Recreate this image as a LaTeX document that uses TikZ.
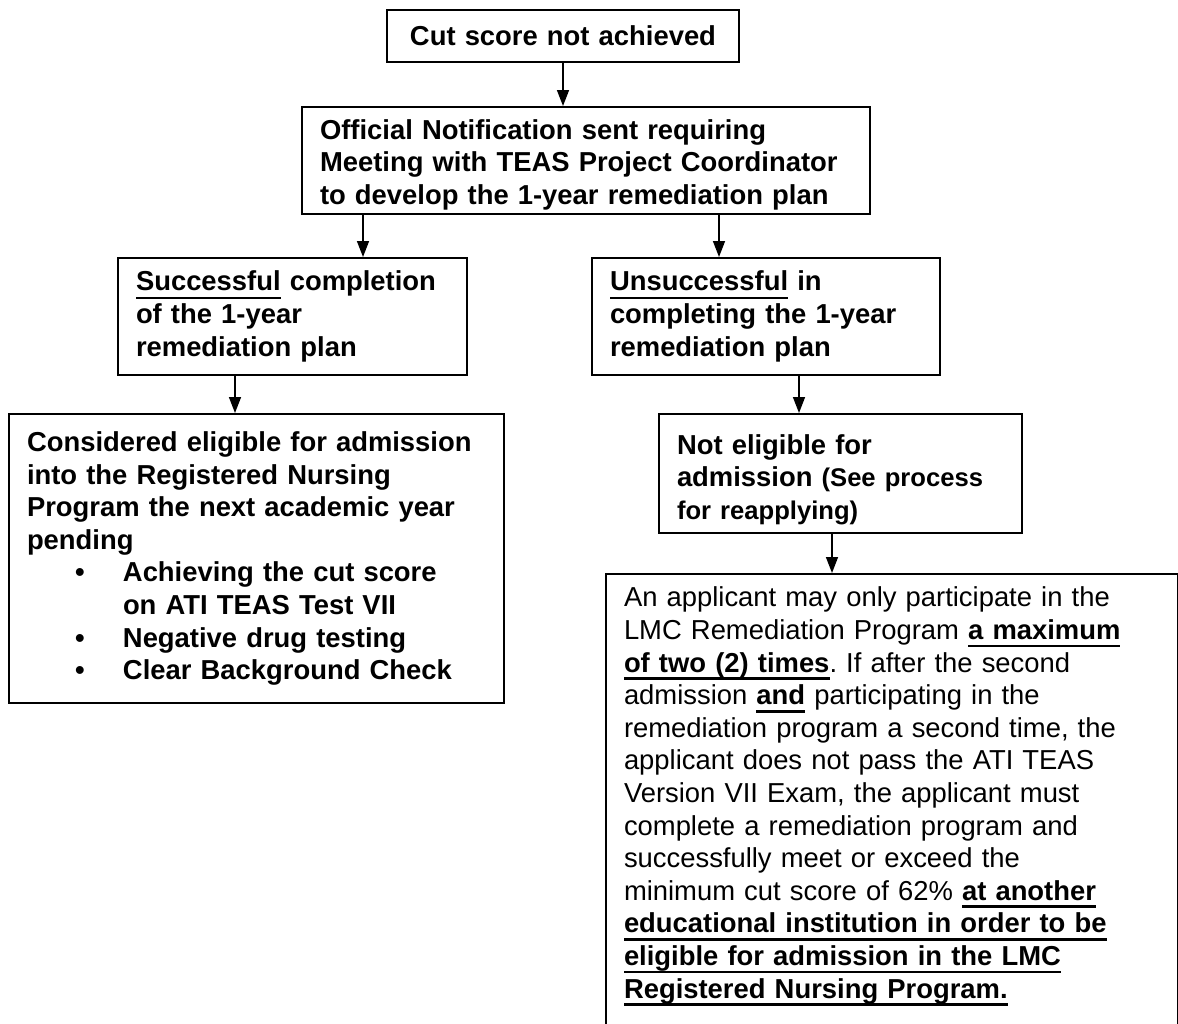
\documentclass[tikz,border=0pt]{standalone}
\usepackage{fontspec}
\setmainfont{Liberation Sans}
\usetikzlibrary{arrows.meta}
\frenchspacing

\tikzset{every picture/.style={line width=0.75pt}}
\tikzset{
  flowbox/.style={draw, line width=1pt, anchor=north west, inner xsep=9pt, inner ysep=0pt, align=left, font=\bfseries\fontsize{13.7pt}{16.3pt}\selectfont},
  plainbox/.style={flowbox, font=\fontsize{13.7pt}{16.3pt}\selectfont},
  arr/.style={-{Triangle[length=8pt,width=6pt]}, line width=0.75pt}
}
\newcommand{\ulpart}[2][1.4pt]{\leavevmode\setbox0=\hbox{#2}\rlap{\rule[-4pt]{\wd0}{#1}}\box0\relax}
\newcommand{\smallpar}[1]{{\fontsize{12.8pt}{16.3pt}\selectfont #1}}

\begin{document}
\begin{tikzpicture}[x=0.5pt,y=0.5pt,yscale=-1,xscale=1]
    \clip (0,0) rectangle (1178,1023);

    % Text Node
    \node (cut) at (386,9) [flowbox, align=center, inner xsep=5.5pt, text width=165pt, minimum height=26pt] {Cut score not achieved};
    % Text Node
    \node (notif) at (301,106) [flowbox, text width=266pt, minimum height=53.5pt] {\rule{0pt}{14pt}Official Notification sent requiring\\Meeting with TEAS Project Coordinator\\to develop the 1-year remediation plan};
    % Text Node
    \node (succ) at (117,257) [flowbox, text width=156.5pt, minimum height=58.5pt] {\ulpart[0.9pt]{Successful} completion\\of the 1-year\\remediation plan};
    % Text Node
    \node (unsucc) at (591,257) [flowbox, text width=156pt, minimum height=58.5pt] {\ulpart[0.9pt]{Unsuccessful} in\\completing the 1-year\\remediation plan};
    % Text Node
    \node (elig) at (8,413) [flowbox, text width=229.5pt, minimum height=144.5pt] {Considered eligible for admission\\into the Registered Nursing\\Program the next academic year\\pending\\
      \hspace*{24pt}\makebox[24pt][l]{\textbullet}Achieving the cut score\\
      \hspace*{48pt}on ATI TEAS Test VII\\
      \hspace*{24pt}\makebox[24pt][l]{\textbullet}Negative drug testing\\
      \hspace*{24pt}\makebox[24pt][l]{\textbullet}Clear Background Check};
    % Text Node
    \node (noteli) at (658,413) [flowbox, text width=163.5pt, minimum height=59.5pt] {\rule{0pt}{16pt}Not eligible for\\admission \smallpar{(See process}\\\smallpar{for reapplying)}};
    % Text Node
    \node (limit) at (605,573) [plainbox, inner ysep=6.5pt, text width=268pt] {An applicant may only participate in the\\
      LMC Remediation Program \ulpart{\textbf{a maximum}}\\
      \ulpart{\textbf{of two (2) times}}. If after the second\\
      admission \ulpart{\textbf{and}} participating in the\\
      remediation program a second time, the\\
      applicant does not pass the ATI TEAS\\
      Version VII Exam, the applicant must\\
      complete a remediation program and\\
      successfully meet or exceed the\\
      minimum cut score of 62\% \ulpart{\textbf{at another}}\\
      \ulpart{\textbf{educational institution in order to be}}\\
      \ulpart{\textbf{eligible for admission in the LMC}}\\
      \ulpart{\textbf{Registered Nursing Program.}}\rule[-12pt]{0pt}{12pt}};

    %Straight Lines
    \draw [arr] (cut.south) -- (cut.south |- notif.north);
    \draw [arr] (363,0 |- notif.south) -- (363,0 |- succ.north);
    \draw [arr] (719,0 |- notif.south) -- (719,0 |- unsucc.north);
    \draw [arr] (235,0 |- succ.south) -- (235,0 |- elig.north);
    \draw [arr] (799,0 |- unsucc.south) -- (799,0 |- noteli.north);
    \draw [arr] (832,0 |- noteli.south) -- (832,0 |- limit.north);

\end{tikzpicture}
\end{document}
